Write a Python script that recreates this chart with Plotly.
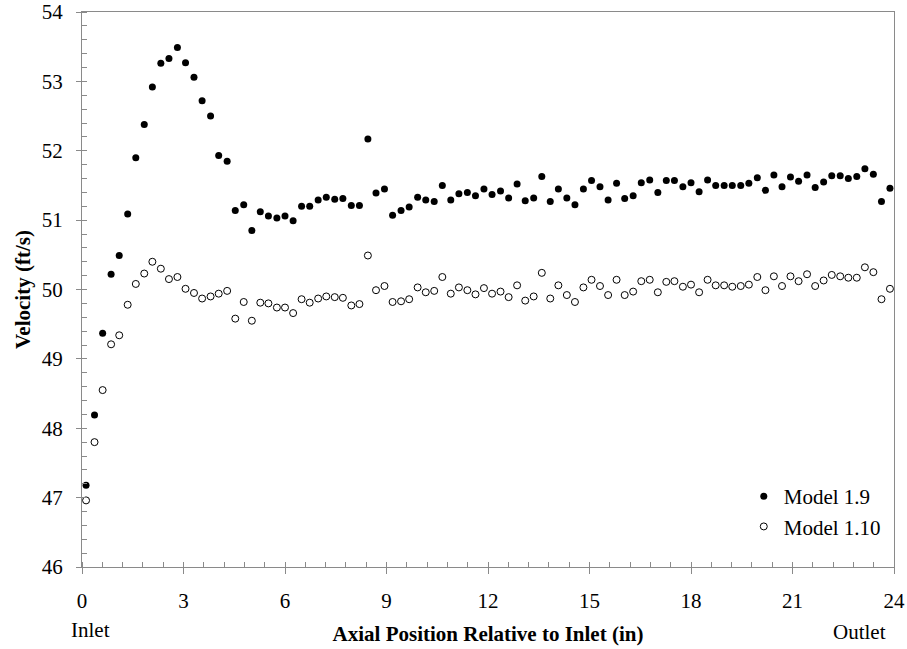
import plotly.graph_objects as go

# Axial positions (in) of the samples
axial_pos = [0.12, 0.37, 0.61, 0.86, 1.10, 1.35, 1.59, 1.84, 2.08, 2.33,
             2.57, 2.82, 3.06, 3.31, 3.55, 3.80, 4.04, 4.29, 4.53, 4.78,
             5.02, 5.27, 5.51, 5.76, 6.00, 6.24, 6.49, 6.73, 6.98, 7.22,
             7.47, 7.71, 7.96, 8.20, 8.45, 8.69, 8.94, 9.18, 9.43, 9.67,
             9.92, 10.16, 10.41, 10.65, 10.90, 11.14, 11.39, 11.63, 11.88, 12.12,
             12.37, 12.61, 12.86, 13.10, 13.35, 13.59, 13.84, 14.08, 14.33, 14.57,
             14.82, 15.06, 15.31, 15.55, 15.80, 16.04, 16.29, 16.53, 16.78, 17.02,
             17.27, 17.51, 17.76, 18.00, 18.24, 18.49, 18.73, 18.98, 19.22, 19.47,
             19.71, 19.96, 20.20, 20.45, 20.69, 20.94, 21.18, 21.43, 21.67, 21.92,
             22.16, 22.41, 22.65, 22.90, 23.14, 23.39, 23.63, 23.88]

# Velocity (ft/s) - Model 1.9
model_1_9 = [47.18, 48.19, 49.37, 50.22, 50.49, 51.09, 51.90, 52.38, 52.92, 53.26,
             53.33, 53.49, 53.27, 53.06, 52.72, 52.50, 51.93, 51.85, 51.14, 51.22,
             50.85, 51.12, 51.06, 51.03, 51.06, 50.99, 51.20, 51.20, 51.29, 51.33,
             51.30, 51.31, 51.21, 51.21, 52.17, 51.39, 51.45, 51.07, 51.14, 51.19,
             51.33, 51.29, 51.27, 51.50, 51.29, 51.38, 51.40, 51.35, 51.45, 51.37,
             51.42, 51.32, 51.52, 51.28, 51.32, 51.63, 51.27, 51.45, 51.32, 51.22,
             51.45, 51.57, 51.48, 51.29, 51.53, 51.31, 51.35, 51.54, 51.58, 51.40,
             51.57, 51.57, 51.48, 51.54, 51.41, 51.58, 51.50, 51.50, 51.50, 51.50,
             51.53, 51.61, 51.43, 51.65, 51.48, 51.62, 51.56, 51.65, 51.47, 51.55,
             51.64, 51.64, 51.60, 51.63, 51.74, 51.66, 51.27, 51.46]

# Velocity (ft/s) - Model 1.10
model_1_10 = [46.96, 47.80, 48.55, 49.21, 49.34, 49.78, 50.08, 50.23, 50.40, 50.30,
              50.15, 50.18, 50.01, 49.95, 49.87, 49.90, 49.94, 49.98, 49.58, 49.82,
              49.55, 49.81, 49.80, 49.74, 49.74, 49.66, 49.86, 49.81, 49.87, 49.90,
              49.89, 49.88, 49.77, 49.79, 50.49, 49.99, 50.05, 49.82, 49.83, 49.86,
              50.03, 49.96, 49.98, 50.18, 49.94, 50.03, 49.99, 49.93, 50.02, 49.94,
              49.97, 49.89, 50.06, 49.84, 49.90, 50.24, 49.87, 50.06, 49.92, 49.82,
              50.03, 50.14, 50.05, 49.92, 50.14, 49.92, 49.97, 50.12, 50.14, 49.96,
              50.11, 50.12, 50.04, 50.07, 49.96, 50.14, 50.06, 50.06, 50.04, 50.05,
              50.07, 50.18, 49.99, 50.19, 50.05, 50.19, 50.12, 50.22, 50.05, 50.13,
              50.21, 50.19, 50.17, 50.17, 50.32, 50.25, 49.86, 50.01]

x_ticks = [0, 3, 6, 9, 12, 15, 18, 21, 24]
y_ticks = [46, 47, 48, 49, 50, 51, 52, 53, 54]

FONT = "Liberation Serif"
AX = "#8a8a8a"
TXT = dict(family=FONT, size=21, color="black")

fig = go.Figure()
fig.add_trace(go.Scatter(x=axial_pos, y=model_1_9, mode="markers", name="Model 1.9",
                         marker=dict(symbol="circle", size=7, color="black")))
fig.add_trace(go.Scatter(x=axial_pos, y=model_1_10, mode="markers", name="Model 1.10",
                         marker=dict(symbol="circle-open", size=7, color="black",
                                     line=dict(width=1, color="black"))))

common_x = dict(range=[0, 24], tickvals=x_ticks, showgrid=False, zeroline=False,
                linecolor=AX, linewidth=1, tickcolor=AX, automargin=False)
common_y = dict(range=[46, 54], tickvals=y_ticks, showgrid=False, zeroline=False,
                linecolor=AX, linewidth=1, tickcolor=AX, automargin=False)

fig.update_layout(
    width=907, height=649,
    margin=dict(l=82, r=13, t=12, b=82),
    paper_bgcolor="white", plot_bgcolor="white",
    font=TXT,
    xaxis=dict(**common_x, showline=True, mirror=True, ticks="outside", ticklen=6,
               tickfont=TXT, ticklabelstandoff=9,
               minor=dict(dtick=0.6, ticks="inside", ticklen=5, tickcolor=AX),
               title=dict(text="<b>Axial Position Relative to Inlet (in)</b>",
                          font=TXT, standoff=14)),
    yaxis=dict(**common_y, showline=True, mirror=True, ticks="outside", ticklen=5,
               tickfont=TXT, ticklabelstandoff=9,
               minor=dict(dtick=0.2, ticks="inside", ticklen=5, tickcolor=AX),
               title=dict(text="<b>Velocity (ft/s)</b>", font=TXT, standoff=5)),
    xaxis2=dict(**common_x, overlaying="x", anchor="y", side="bottom", showline=False,
                ticks="inside", ticklen=6, showticklabels=False),
    yaxis2=dict(**common_y, overlaying="y", anchor="x", side="left", showline=False,
                ticks="inside", ticklen=5, showticklabels=False),
    legend=dict(x=0.815, y=0.164, xanchor="left", yanchor="top",
                bgcolor="rgba(0,0,0,0)", font=TXT,
                itemwidth=30, tracegroupgap=0),
    showlegend=True,
)

fig.add_annotation(text="Inlet", xref="paper", yref="paper", x=0.0099, y=-0.1135,
                   showarrow=False, font=TXT, xanchor="center", yanchor="middle")
fig.add_annotation(text="Outlet", xref="paper", yref="paper", x=0.957, y=-0.1166,
                   showarrow=False, font=TXT, xanchor="center", yanchor="middle")

fig.write_html("out.html")
